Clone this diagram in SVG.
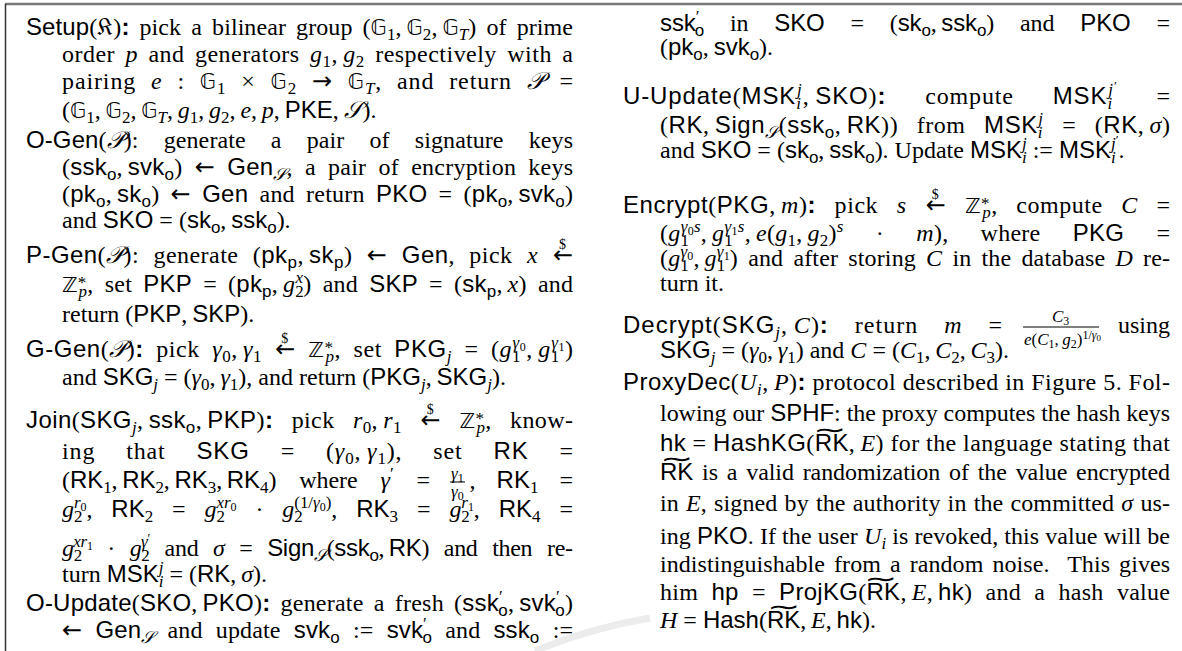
<svg xmlns="http://www.w3.org/2000/svg" width="1182" height="651" viewBox="0 0 1182 651">
<style>
text{font-family:"Liberation Serif","Times New Roman",serif;font-size:24px;fill:#000}
.s{font-family:"Liberation Sans",Arial,sans-serif}
.i{font-style:italic}
.bd{font-weight:bold}
.b{font-family:"DejaVu Sans",sans-serif;font-size:21px}
.c{font-family:"DejaVu Serif","DejaVu Sans",serif;font-style:italic}
.f{font-family:"DejaVu Serif","DejaVu Sans",serif}
.ar{font-family:"DejaVu Sans",sans-serif;font-size:24px}
.sb{font-size:17px;baseline-shift:-5px}
.sp{font-size:17px;baseline-shift:9px}
.st{font-size:17px;baseline-shift:4px}
.ss{font-size:12px;baseline-shift:-3px}
.pp{font-size:13px;baseline-shift:5px}
.d{font-size:14px;baseline-shift:14px}
.fs{font-size:17px}
.q{font-size:12px;baseline-shift:-3px}
.Q{font-size:12px;baseline-shift:6px}
.qq{font-size:9px;baseline-shift:-2px}
.tl{font-family:"DejaVu Sans",sans-serif;font-size:20px}
.rule{stroke:#000;stroke-width:1}
</style>
<g id="frame">
<line x1="5" y1="4" x2="1182" y2="4" stroke="#777" stroke-width="2.5"/>
<line x1="5.5" y1="4" x2="5.5" y2="651" stroke="#333" stroke-width="1.5"/>
<path d="M 535 651 Q 590 628 650 618" stroke="#ececec" stroke-width="7" fill="none"/>
</g>
<g id="setup">
<text x="26" y="35" textLength="547" lengthAdjust="spacing" word-spacing="4"><tspan class="s">Setup</tspan>(<tspan class="f">𝔎</tspan>)<tspan class="s bd">:</tspan> pick a bilinear group (<tspan class="b">𝔾</tspan><tspan class="sb">1</tspan>,&#8201;<tspan class="b">𝔾</tspan><tspan class="sb">2</tspan>,&#8201;<tspan class="b">𝔾</tspan><tspan class="sb i">T</tspan>) of prime</text>
<text x="62" y="62" textLength="511" lengthAdjust="spacing" word-spacing="4">order <tspan class="i">p</tspan> and generators <tspan class="i">g</tspan><tspan class="sb">1</tspan>,&#8201;<tspan class="i">g</tspan><tspan class="sb">2</tspan> respectively with a</text>
<text x="62" y="89" textLength="511" lengthAdjust="spacing" word-spacing="8">pairing <tspan class="i">e</tspan> : <tspan class="b">𝔾</tspan><tspan class="sb">1</tspan> × <tspan class="b">𝔾</tspan><tspan class="sb">2</tspan> <tspan class="ar">→</tspan> <tspan class="b">𝔾</tspan><tspan class="sb i">T</tspan>, and return <tspan class="c">𝒫</tspan> =</text>
<text x="62" y="118">(<tspan class="b">𝔾</tspan><tspan class="sb">1</tspan>,&#8201;<tspan class="b">𝔾</tspan><tspan class="sb">2</tspan>,&#8201;<tspan class="b">𝔾</tspan><tspan class="sb i">T</tspan>,&#8201;<tspan class="i">g</tspan><tspan class="sb">1</tspan>,&#8201;<tspan class="i">g</tspan><tspan class="sb">2</tspan>,&#8201;<tspan class="i">e</tspan>,&#8201;<tspan class="i">p</tspan>,&#8201;<tspan class="s">PKE</tspan>,&#8201;<tspan class="c">𝒮</tspan>).</text>
</g>
<g id="ogen">
<text x="26" y="148" textLength="547" lengthAdjust="spacing" word-spacing="19"><tspan class="s">O-Gen</tspan>(<tspan class="c">𝒫</tspan>): generate a pair of signature keys</text>
<text x="62" y="175" textLength="511" lengthAdjust="spacing" word-spacing="6">(<tspan class="s">ssk</tspan><tspan class="sb s">o</tspan>,&#8201;<tspan class="s">svk</tspan><tspan class="sb s">o</tspan>) <tspan class="ar">←</tspan> <tspan class="s">Gen</tspan><tspan class="sb c">𝒮</tspan>, a pair of encryption keys</text>
<text x="62" y="202" textLength="511" lengthAdjust="spacing" word-spacing="5">(<tspan class="s">pk</tspan><tspan class="sb s">o</tspan>,&#8201;<tspan class="s">sk</tspan><tspan class="sb s">o</tspan>) <tspan class="ar">←</tspan> <tspan class="s">Gen</tspan> and return <tspan class="s">PKO</tspan> = (<tspan class="s">pk</tspan><tspan class="sb s">o</tspan>,&#8201;<tspan class="s">svk</tspan><tspan class="sb s">o</tspan>)</text>
<text x="62" y="228">and <tspan class="s">SKO</tspan> = (<tspan class="s">sk</tspan><tspan class="sb s">o</tspan>,&#8201;<tspan class="s">ssk</tspan><tspan class="sb s">o</tspan>).</text>
</g>
<g id="pgen">
<text x="26" y="263" textLength="547" lengthAdjust="spacing" word-spacing="8"><tspan class="s">P-Gen</tspan>(<tspan class="c">𝒫</tspan>): generate (<tspan class="s">pk</tspan><tspan class="sb s">p</tspan>,&#8201;<tspan class="s">sk</tspan><tspan class="sb s">p</tspan>) <tspan class="ar">←</tspan> <tspan class="s">Gen</tspan>, pick <tspan class="i">x</tspan> <tspan class="d" dx="6.5">$</tspan><tspan class="ar" dx="-13.5">←</tspan></text>
<text x="62" y="292" textLength="511" lengthAdjust="spacing" word-spacing="5"><tspan class="b">ℤ</tspan><tspan class="st">*</tspan><tspan class="sb i" dx="-8">p</tspan>, set <tspan class="s">PKP</tspan> = (<tspan class="s">pk</tspan><tspan class="sb s">p</tspan>,&#8201;<tspan class="i">g</tspan><tspan class="sb">2</tspan><tspan class="sp i" dx="-8.5">x</tspan>) and <tspan class="s">SKP</tspan> = (<tspan class="s">sk</tspan><tspan class="sb s">p</tspan>,&#8201;<tspan class="i">x</tspan>) and</text>
<text x="62" y="322">return (<tspan class="s">PKP</tspan>,&#8201;<tspan class="s">SKP</tspan>).</text>
</g>
<g id="ggen">
<text x="26" y="357" textLength="547" lengthAdjust="spacing" word-spacing="6"><tspan class="s">G-Gen</tspan>(<tspan class="c">𝒫</tspan>)<tspan class="s bd">:</tspan> pick <tspan class="i">γ</tspan><tspan class="sb">0</tspan>,&#8201;<tspan class="i">γ</tspan><tspan class="sb">1</tspan> <tspan class="d" dx="6.5">$</tspan><tspan class="ar" dx="-13.5">←</tspan> <tspan class="b">ℤ</tspan><tspan class="st">*</tspan><tspan class="sb i" dx="-8">p</tspan>, set <tspan class="s">PKG</tspan><tspan class="sb i">j</tspan> = (<tspan class="i">g</tspan><tspan class="sb">1</tspan><tspan class="sp" dx="-8.5"><tspan class="i">γ</tspan><tspan class="ss">0</tspan></tspan>,&#8201;<tspan class="i">g</tspan><tspan class="sb">1</tspan><tspan class="sp" dx="-8.5"><tspan class="i">γ</tspan><tspan class="ss">1</tspan></tspan>)</text>
<text x="62" y="385">and <tspan class="s">SKG</tspan><tspan class="sb i">j</tspan> = (<tspan class="i">γ</tspan><tspan class="sb">0</tspan>,&#8201;<tspan class="i">γ</tspan><tspan class="sb">1</tspan>), and return (<tspan class="s">PKG</tspan><tspan class="sb i">j</tspan>,&#8201;<tspan class="s">SKG</tspan><tspan class="sb i">j</tspan>).</text>
</g>
<g id="join">
<text x="26" y="428" textLength="547" lengthAdjust="spacing" word-spacing="12"><tspan class="s">Join</tspan>(<tspan class="s">SKG</tspan><tspan class="sb i">j</tspan>,&#8201;<tspan class="s">ssk</tspan><tspan class="sb s">o</tspan>,&#8201;<tspan class="s">PKP</tspan>)<tspan class="s bd">:</tspan> pick <tspan class="i">r</tspan><tspan class="sb">0</tspan>,&#8201;<tspan class="i">r</tspan><tspan class="sb">1</tspan> <tspan class="d" dx="6.5">$</tspan><tspan class="ar" dx="-13.5">←</tspan> <tspan class="b">ℤ</tspan><tspan class="st">*</tspan><tspan class="sb i" dx="-8">p</tspan>, know-</text>
<text x="62" y="459" textLength="511" lengthAdjust="spacing" word-spacing="24">ing that <tspan class="s">SKG</tspan> = (<tspan class="i">γ</tspan><tspan class="sb">0</tspan>,&#8201;<tspan class="i">γ</tspan><tspan class="sb">1</tspan>), set <tspan class="s">RK</tspan> =</text>
<text x="62" y="488" textLength="368" lengthAdjust="spacing" word-spacing="17">(<tspan class="s">RK</tspan><tspan class="sb">1</tspan>,&#8201;<tspan class="s">RK</tspan><tspan class="sb">2</tspan>,&#8201;<tspan class="s">RK</tspan><tspan class="sb">3</tspan>,&#8201;<tspan class="s">RK</tspan><tspan class="sb">4</tspan>) where <tspan class="i">γ</tspan><tspan class="sp">′</tspan> =</text>
<text class="fs" x="451" y="479"><tspan class="i">γ</tspan><tspan class="q">1</tspan></text>
<line class="rule" x1="450" y1="482" x2="465" y2="482"/>
<text class="fs" x="451" y="497"><tspan class="i">γ</tspan><tspan class="q">0</tspan></text>
<text x="573" y="488" text-anchor="end" word-spacing="15">, <tspan class="s">RK</tspan><tspan class="sb">1</tspan> =</text>
<text x="62" y="517" textLength="511" lengthAdjust="spacing" word-spacing="13"><tspan class="i">g</tspan><tspan class="sb">2</tspan><tspan class="sp" dx="-8.5"><tspan class="i">r</tspan><tspan class="ss">0</tspan></tspan>, <tspan class="s">RK</tspan><tspan class="sb">2</tspan> = <tspan class="i">g</tspan><tspan class="sb">2</tspan><tspan class="sp" dx="-8.5"><tspan class="i">xr</tspan><tspan class="ss">0</tspan></tspan> · <tspan class="i">g</tspan><tspan class="sb">2</tspan><tspan class="sp" dx="-8.5">(1/<tspan class="i">γ</tspan><tspan class="ss">0</tspan>)</tspan>, <tspan class="s">RK</tspan><tspan class="sb">3</tspan> = <tspan class="i">g</tspan><tspan class="sb">2</tspan><tspan class="sp" dx="-8.5"><tspan class="i">r</tspan><tspan class="ss">1</tspan></tspan>, <tspan class="s">RK</tspan><tspan class="sb">4</tspan> =</text>
<text x="62" y="556" textLength="511" lengthAdjust="spacing" word-spacing="9"><tspan class="i">g</tspan><tspan class="sb">2</tspan><tspan class="sp" dx="-8.5"><tspan class="i">xr</tspan><tspan class="ss">1</tspan></tspan> · <tspan class="i">g</tspan><tspan class="sb">2</tspan><tspan class="sp" dx="-8.5"><tspan class="i">γ</tspan><tspan class="pp">′</tspan></tspan> and <tspan class="i">σ</tspan> = <tspan class="s">Sign</tspan><tspan class="sb c">𝒮</tspan>(<tspan class="s">ssk</tspan><tspan class="sb s">o</tspan>,&#8201;<tspan class="s">RK</tspan>) and then re-</text>
<text x="62" y="582">turn <tspan class="s">MSK</tspan><tspan class="sb i">i</tspan><tspan class="sp i" dx="-4.7">j</tspan> = (<tspan class="s">RK</tspan>,&#8201;<tspan class="i">σ</tspan>).</text>
</g>
<g id="oupdate">
<text x="26" y="611" textLength="547" lengthAdjust="spacing" word-spacing="4"><tspan class="s">O-Update</tspan>(<tspan class="s">SKO</tspan>,&#8201;<tspan class="s">PKO</tspan>)<tspan class="s bd">:</tspan> generate a fresh (<tspan class="s">ssk</tspan><tspan class="sp">′</tspan><tspan class="sb s" dx="-4.5">o</tspan>,&#8201;<tspan class="s">svk</tspan><tspan class="sp">′</tspan><tspan class="sb s" dx="-4.5">o</tspan>)</text>
<text x="62" y="638" textLength="511" lengthAdjust="spacing" word-spacing="7"><tspan class="ar">←</tspan> <tspan class="s">Gen</tspan><tspan class="sb c">𝒮</tspan> and update <tspan class="s">svk</tspan><tspan class="sb s">o</tspan> := <tspan class="s">svk</tspan><tspan class="sp">′</tspan><tspan class="sb s" dx="-4.5">o</tspan> and <tspan class="s">ssk</tspan><tspan class="sb s">o</tspan> :=</text>
<text x="660" y="31" textLength="510" lengthAdjust="spacing" word-spacing="20"><tspan class="s">ssk</tspan><tspan class="sp">′</tspan><tspan class="sb s" dx="-4.5">o</tspan> in <tspan class="s">SKO</tspan> = (<tspan class="s">sk</tspan><tspan class="sb s">o</tspan>,&#8201;<tspan class="s">ssk</tspan><tspan class="sb s">o</tspan>) and <tspan class="s">PKO</tspan> =</text>
<text x="660" y="55">(<tspan class="s">pk</tspan><tspan class="sb s">o</tspan>,&#8201;<tspan class="s">svk</tspan><tspan class="sb s">o</tspan>).</text>
</g>
<g id="uupdate">
<text x="623" y="104" textLength="547" lengthAdjust="spacing" word-spacing="32"><tspan class="s">U-Update</tspan>(<tspan class="s">MSK</tspan><tspan class="sb i">i</tspan><tspan class="sp i" dx="-4.7">j</tspan>,&#8201;<tspan class="s">SKO</tspan>)<tspan class="s bd">:</tspan> compute <tspan class="s">MSK</tspan><tspan class="sb i">i</tspan><tspan class="sp" dx="-4.7"><tspan class="i">j</tspan><tspan class="pp">′</tspan></tspan> =</text>
<text x="660" y="133" textLength="510" lengthAdjust="spacing" word-spacing="12">(<tspan class="s">RK</tspan>,&#8201;<tspan class="s">Sign</tspan><tspan class="sb c">𝒮</tspan>(<tspan class="s">ssk</tspan><tspan class="sb s">o</tspan>,&#8201;<tspan class="s">RK</tspan>)) from <tspan class="s">MSK</tspan><tspan class="sb i">i</tspan><tspan class="sp i" dx="-4.7">j</tspan> = (<tspan class="s">RK</tspan>,&#8201;<tspan class="i">σ</tspan>)</text>
<text x="660" y="158">and <tspan class="s">SKO</tspan> = (<tspan class="s">sk</tspan><tspan class="sb s">o</tspan>,&#8201;<tspan class="s">ssk</tspan><tspan class="sb s">o</tspan>). Update <tspan class="s">MSK</tspan><tspan class="sb i">i</tspan><tspan class="sp i" dx="-4.7">j</tspan> := <tspan class="s">MSK</tspan><tspan class="sb i">i</tspan><tspan class="sp" dx="-4.7"><tspan class="i">j</tspan><tspan class="pp">′</tspan></tspan>.</text>
</g>
<g id="encrypt">
<text x="623" y="213" textLength="547" lengthAdjust="spacing" word-spacing="12"><tspan class="s">Encrypt</tspan>(<tspan class="s">PKG</tspan>,&#8201;<tspan class="i">m</tspan>)<tspan class="s bd">:</tspan> pick <tspan class="i">s</tspan> <tspan class="d" dx="6.5">$</tspan><tspan class="ar" dx="-13.5">←</tspan> <tspan class="b">ℤ</tspan><tspan class="st">*</tspan><tspan class="sb i" dx="-8">p</tspan>, compute <tspan class="i">C</tspan> =</text>
<text x="660" y="241" textLength="510" lengthAdjust="spacing" word-spacing="26">(<tspan class="i">g</tspan><tspan class="sb">1</tspan><tspan class="sp" dx="-8.5"><tspan class="i">γ</tspan><tspan class="ss">0</tspan><tspan class="i">s</tspan></tspan>,&#8201;<tspan class="i">g</tspan><tspan class="sb">1</tspan><tspan class="sp" dx="-8.5"><tspan class="i">γ</tspan><tspan class="ss">1</tspan><tspan class="i">s</tspan></tspan>,&#8201;<tspan class="i">e</tspan>(<tspan class="i">g</tspan><tspan class="sb">1</tspan>,&#8201;<tspan class="i">g</tspan><tspan class="sb">2</tspan>)<tspan class="sp i">s</tspan> · <tspan class="i">m</tspan>), where <tspan class="s">PKG</tspan> =</text>
<text x="660" y="266" textLength="510" lengthAdjust="spacing" word-spacing="4">(<tspan class="i">g</tspan><tspan class="sb">1</tspan><tspan class="sp" dx="-8.5"><tspan class="i">γ</tspan><tspan class="ss">0</tspan></tspan>,&#8201;<tspan class="i">g</tspan><tspan class="sb">1</tspan><tspan class="sp" dx="-8.5"><tspan class="i">γ</tspan><tspan class="ss">1</tspan></tspan>) and after storing <tspan class="i">C</tspan> in the database <tspan class="i">D</tspan> re-</text>
<text x="660" y="291">turn it.</text>
</g>
<g id="decrypt">
<text x="623" y="333" textLength="379" lengthAdjust="spacing" word-spacing="19"><tspan class="s">Decrypt</tspan>(<tspan class="s">SKG</tspan><tspan class="sb i">j</tspan>,&#8201;<tspan class="i">C</tspan>)<tspan class="s bd">:</tspan> return <tspan class="i">m</tspan> =</text>
<text class="fs" x="1052" y="322"><tspan class="i">C</tspan><tspan class="q">3</tspan></text>
<line class="rule" x1="1023" y1="327" x2="1099" y2="327"/>
<text class="fs" x="1024" y="345"><tspan class="i">e</tspan>(<tspan class="i">C</tspan><tspan class="q">1</tspan>,&#8201;<tspan class="i">g</tspan><tspan class="q">2</tspan>)<tspan class="Q">1/<tspan class="i">γ</tspan><tspan class="qq">0</tspan></tspan></text>
<text x="1170" y="333" text-anchor="end">using</text>
<text x="660" y="358"><tspan class="s">SKG</tspan><tspan class="sb i">j</tspan> = (<tspan class="i">γ</tspan><tspan class="sb">0</tspan>,&#8201;<tspan class="i">γ</tspan><tspan class="sb">1</tspan>) and <tspan class="i">C</tspan> = (<tspan class="i">C</tspan><tspan class="sb">1</tspan>,&#8201;<tspan class="i">C</tspan><tspan class="sb">2</tspan>,&#8201;<tspan class="i">C</tspan><tspan class="sb">3</tspan>).</text>
</g>
<g id="proxydec">
<text x="623" y="390" textLength="547" lengthAdjust="spacing"><tspan class="s">ProxyDec</tspan>(<tspan class="i">U</tspan><tspan class="sb i">i</tspan>,&#8201;<tspan class="i">P</tspan>)<tspan class="s bd">:</tspan> protocol described in Figure 5. Fol-</text>
<text x="660" y="421" textLength="510" lengthAdjust="spacing">lowing our <tspan class="s">SPHF</tspan>: the proxy computes the hash keys</text>
<text x="660" y="451" textLength="510" lengthAdjust="spacing"><tspan class="s">hk</tspan> = <tspan class="s">HashKG</tspan>(<tspan class="s">RK</tspan>,&#8201;<tspan class="i">E</tspan>) for the language stating that</text>
<text class="tl" transform="translate(813,437.5) scale(2,1.2)">∼</text>
<text x="660" y="480" textLength="510" lengthAdjust="spacing" word-spacing="3"><tspan class="s">RK</tspan> is a valid randomization of the value encrypted</text>
<text class="tl" transform="translate(660,466.5) scale(2,1.2)">∼</text>
<text x="660" y="511" textLength="510" lengthAdjust="spacing" word-spacing="1">in <tspan class="i">E</tspan>, signed by the authority in the committed <tspan class="i">σ</tspan> us-</text>
<text x="660" y="544" textLength="510" lengthAdjust="spacing">ing <tspan class="s">PKO</tspan>. If the user <tspan class="i">U</tspan><tspan class="sb i">i</tspan> is revoked, this value will be</text>
<text x="660" y="572" textLength="510" lengthAdjust="spacing" word-spacing="3">indistinguishable from a random noise.&#160; This gives</text>
<text x="660" y="600" textLength="510" lengthAdjust="spacing" word-spacing="7">him <tspan class="s">hp</tspan> = <tspan class="s">ProjKG</tspan>(<tspan class="s">RK</tspan>,&#8201;<tspan class="i">E</tspan>,&#8201;<tspan class="s">hk</tspan>) and a hash value</text>
<text class="tl" transform="translate(864,586.5) scale(2,1.2)">∼</text>
<text x="660" y="628"><tspan class="i">H</tspan> = <tspan class="s">Hash</tspan>(<tspan class="s">RK</tspan>,&#8201;<tspan class="i">E</tspan>,&#8201;<tspan class="s">hk</tspan>).</text>
<text class="tl" transform="translate(767,614.5) scale(2,1.2)">∼</text>
</g>
</svg>
